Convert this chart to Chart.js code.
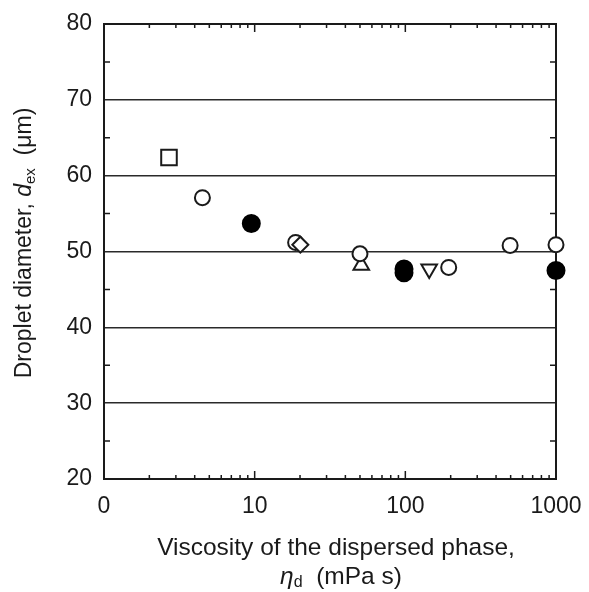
<!DOCTYPE html>
<html><head><meta charset="utf-8">
<script src="https://cdn.jsdelivr.net/npm/chart.js@4"></script>
<style>html,body{margin:0;padding:0;background:#fff}</style>
</head><body>
<canvas id="c" width="589" height="592"></canvas>
<script>
// ---- data ----
const xTickValues = [1, 10, 100, 1000];
const xTickLabels = ['0', '10', '100', '1000'];
const yTickValues = [20, 30, 40, 50, 60, 70, 80];
const squareX = [2.7];        const squareY = [62.4];
const openCircleX = [4.5, 18.7, 50, 194, 496, 1000];
const openCircleY = [57.1, 51.2, 49.7, 47.9, 50.8, 50.9];
const filledCircleX = [9.5, 98, 98, 1000];
const filledCircleY = [53.7, 47.7, 47.2, 47.5];
const diamondX = [20.1];      const diamondY = [50.9];
const triUpX = [51];          const triUpY = [48.2];
const triDownX = [144];       const triDownY = [47.7];

const FONT = '"Liberation Sans", Arial, Helvetica, sans-serif';
const INK = '#1a1a1a';
const zip = (xs, ys) => xs.map((x, i) => ({x, y: ys[i]}));

function drawRuns(ctx, runs, cx, cy) {
  let total = 0;
  runs.forEach(r => { ctx.font = r.font; r.w = ctx.measureText(r.t).width; total += r.w; });
  let x = cx - total / 2;
  ctx.textAlign = 'left'; ctx.textBaseline = 'middle'; ctx.fillStyle = INK;
  runs.forEach(r => { ctx.font = r.font; ctx.fillText(r.t, x, cy + (r.dy || 0)); x += r.w; });
}

const framePlugin = {
  id: 'frame',
  beforeDatasetsDraw(chart) {
    const {ctx, chartArea: a, scales: {x, y}} = chart;
    ctx.save();
    ctx.strokeStyle = INK; ctx.lineWidth = 1.5;
    ctx.beginPath();
    for (let v = 25; v < 80; v += 10) {
      const py = y.getPixelForValue(v);
      ctx.moveTo(a.left, py); ctx.lineTo(a.left + 6, py);
      ctx.moveTo(a.right, py); ctx.lineTo(a.right - 6, py);
    }
    for (let d = 1; d <= 100; d *= 10) {
      for (let m = 2; m <= 10; m++) {
        const px = x.getPixelForValue(d * m);
        const len = (m === 10) ? 8 : 4;
        ctx.moveTo(px, a.bottom); ctx.lineTo(px, a.bottom - len);
        ctx.moveTo(px, a.top); ctx.lineTo(px, a.top + len);
      }
    }
    ctx.stroke();
    ctx.lineWidth = 2;
    ctx.strokeRect(a.left, a.top, a.right - a.left, a.bottom - a.top);
    ctx.restore();
  },
  afterDraw(chart) {
    const {ctx} = chart;
    ctx.save();
    const big = '24.5px ' + FONT, bigI = 'italic 24.5px ' + FONT, sub = '16px ' + FONT;
    drawRuns(ctx, [{t: 'Viscosity of the dispersed phase,', font: big}], 336, 548);
    drawRuns(ctx, [
      {t: 'η', font: bigI},
      {t: 'd', font: sub, dy: 6},
      {t: '  (mPa s)', font: big}
    ], 341, 577);
    const yb = '23px ' + FONT, ybI = 'italic 23px ' + FONT, ys = '15px ' + FONT;
    ctx.translate(25, 243);
    ctx.rotate(-Math.PI / 2);
    drawRuns(ctx, [
      {t: 'Droplet diameter, ', font: yb},
      {t: 'd', font: ybI},
      {t: 'ex', font: ys, dy: 6},
      {t: '  (μm)', font: yb}
    ], 0, 0);
    ctx.restore();
  }
};

const base = {showLine: false, borderColor: INK, borderWidth: 2, clip: false};

new Chart(document.getElementById('c'), {
  type: 'scatter',
  data: {
    datasets: [
      {...base, label: 'diamond', data: zip(diamondX, diamondY), pointStyle: 'rectRot', pointRadius: 8, backgroundColor: '#fff'},
      {...base, label: 'square', data: zip(squareX, squareY), pointStyle: 'rect', pointRadius: 11, backgroundColor: '#fff'},
      {...base, label: 'open circle', data: zip(openCircleX, openCircleY), pointStyle: 'circle', pointRadius: 7.5, backgroundColor: '#fff'},
      {...base, label: 'filled circle', data: zip(filledCircleX, filledCircleY), pointStyle: 'circle', pointRadius: 8.5, backgroundColor: '#000', borderColor: '#000'},
      {...base, label: 'triangle up', data: zip(triUpX, triUpY), pointStyle: 'triangle', pointRadius: 9, backgroundColor: '#fff'},
      {...base, label: 'triangle down', data: zip(triDownX, triDownY), pointStyle: 'triangle', pointRotation: 180, pointRadius: 9, backgroundColor: '#fff'}
    ]
  },
  options: {
    responsive: false,
    animation: false,
    events: [],
    layout: {padding: {top: 24, right: 33, left: 0, bottom: 0}},
    plugins: {legend: {display: false}, tooltip: {enabled: false}},
    elements: {point: {hoverRadius: 0}},
    scales: {
      x: {
        type: 'logarithmic', min: 1, max: 1000,
        afterBuildTicks: s => { s.ticks = xTickValues.map(v => ({value: v})); },
        afterFit: s => { s.height = 113; s.paddingLeft = 0; s.paddingRight = 0; },
        ticks: {
          autoSkip: false, maxRotation: 0, padding: 14, color: INK,
          font: {family: FONT, size: 23},
          callback: (v) => xTickLabels[xTickValues.indexOf(v)]
        },
        grid: {display: false, drawTicks: false},
        border: {display: false}
      },
      y: {
        min: 20, max: 80,
        afterBuildTicks: s => { s.ticks = yTickValues.map(v => ({value: v})); },
        afterFit: s => { s.width = 104; s.paddingTop = 0; s.paddingBottom = 0; },
        ticks: {padding: 12, color: INK, font: {family: FONT, size: 23}},
        grid: {color: '#2a2a2a', lineWidth: 1.6, drawTicks: false},
        border: {display: false}
      }
    }
  },
  plugins: [framePlugin]
});
</script>
</body></html>
